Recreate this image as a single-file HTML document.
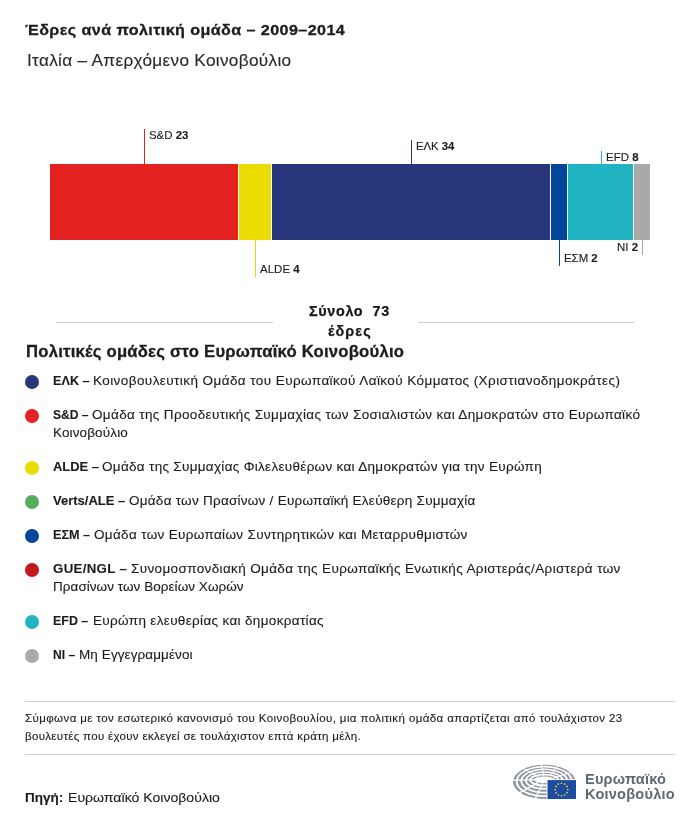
<!DOCTYPE html>
<html lang="el">
<head>
<meta charset="utf-8">
<title>Έδρες ανά πολιτική ομάδα – 2009–2014</title>
<style>
html,body{margin:0;padding:0;background:#fff;}
body{will-change:transform;width:700px;height:822px;position:relative;overflow:hidden;font-family:"Liberation Sans",sans-serif;color:#1d1d1b;}
.t{position:absolute;white-space:nowrap;transform-origin:0 50%;color:#1d1d1b;-webkit-text-stroke:0.12px #1d1d1b;}
.t b{font-weight:bold;}
.seg{position:absolute;top:164px;height:76px;}
.tick{position:absolute;width:1px;}
.hr{position:absolute;height:1px;background:#cfcfcf;}
.dot{position:absolute;left:25px;width:14px;height:14px;border-radius:50%;}
#logo{position:absolute;left:505px;top:758px;}
</style>
</head>
<body>
<!-- bar -->
<div class="seg" style="left:50px;width:188px;background:#e32221;"></div>
<div class="seg" style="left:239px;width:32px;background:#ebdc03;"></div>
<div class="seg" style="left:272px;width:278px;background:#28367c;"></div>
<div class="seg" style="left:551px;width:16px;background:#00479c;"></div>
<div class="seg" style="left:568px;width:65px;background:#20b4c2;"></div>
<div class="seg" style="left:634px;width:16px;background:#a9a9a8;"></div>

<!-- ticks -->
<div class="tick" style="left:144px;top:129px;height:35px;background:#e32221;"></div>
<div class="tick" style="left:255px;top:240px;height:37px;background:#ebdc03;"></div>
<div class="tick" style="left:411px;top:140px;height:24px;background:#28367c;"></div>
<div class="tick" style="left:559px;top:240px;height:26px;background:#00479c;"></div>
<div class="tick" style="left:601px;top:151px;height:13px;background:#20b4c2;"></div>
<div class="tick" style="left:642px;top:240px;height:15px;background:#a9a9a8;"></div>

<!-- total rules -->
<div class="hr" style="left:56px;width:217px;top:322px;"></div>
<div class="hr" style="left:418px;width:216px;top:322px;"></div>

<!-- legend dots -->
<div class="dot" style="top:375px;background:#28367c;"></div>
<div class="dot" style="top:409px;background:#e32221;"></div>
<div class="dot" style="top:461px;background:#ebdc03;"></div>
<div class="dot" style="top:495px;background:#53ad5a;"></div>
<div class="dot" style="top:529px;background:#00479c;"></div>
<div class="dot" style="top:563px;background:#c2191f;"></div>
<div class="dot" style="top:615px;background:#20b4c2;"></div>
<div class="dot" style="top:649px;background:#a9a9a8;"></div>

<!-- footer rules -->
<div class="hr" style="left:25px;width:650px;top:701px;"></div>
<div class="hr" style="left:25px;width:650px;top:754px;"></div>

<!-- logo -->
<svg id="logo" width="90" height="52" viewBox="0 0 90 52">
  <path fill="#90979e" fill-rule="evenodd" d="M8.00,23.80a31.20,17.10 0 1,0 62.40,0a31.20,17.10 0 1,0 -62.40,0zM10.75,23.43a28.60,15.57 0 1,0 57.20,0a28.60,15.57 0 1,0 -57.20,0z M12.60,23.35a26.60,13.95 0 1,0 53.20,0a26.60,13.95 0 1,0 -53.20,0zM15.35,22.98a24.00,12.42 0 1,0 48.00,0a24.00,12.42 0 1,0 -48.00,0z M17.20,22.90a22.00,10.80 0 1,0 44.00,0a22.00,10.80 0 1,0 -44.00,0zM19.95,22.53a19.40,9.28 0 1,0 38.80,0a19.40,9.28 0 1,0 -38.80,0z M21.90,22.40a17.30,7.70 0 1,0 34.60,0a17.30,7.70 0 1,0 -34.60,0zM24.45,22.12a14.90,6.38 0 1,0 29.80,0a14.90,6.38 0 1,0 -29.80,0z M26.40,21.95a12.80,4.55 0 1,0 25.60,0a12.80,4.55 0 1,0 -25.60,0zM28.95,21.67a10.40,3.22 0 1,0 20.80,0a10.40,3.22 0 1,0 -20.80,0z"/>
  <g stroke="#fff" fill="none"><line x1="38.9" y1="17.5" x2="33.6" y2="-2.9" stroke-width="1.2"/><line x1="44.7" y1="17.9" x2="59.3" y2="-0.4" stroke-width="1.0"/><line x1="33.6" y1="18.9" x2="9.9" y2="5.6" stroke-width="1.0"/><line x1="31.5" y1="21.6" x2="0.5" y2="22.4" stroke-width="1.2"/><line x1="33.6" y1="24.1" x2="9.9" y2="37.4" stroke-width="1.3"/><line x1="37.7" y1="25.4" x2="28.1" y2="45.1" stroke-width="1.3"/><line x1="42.4" y1="25.5" x2="48.8" y2="45.8" stroke-width="1.1"/><line x1="48.7" y1="19.8" x2="76.8" y2="11.0" stroke-width="1.0"/></g>
  <rect x="41.6" y="21.3" width="30" height="20.4" fill="#fff"/>
  <rect x="42.5" y="22.1" width="28.5" height="18.9" fill="#1a4da1"/>
  <g fill="#f2d22e"><circle cx="56.50" cy="25.25" r="0.85"/><circle cx="59.65" cy="26.09" r="0.85"/><circle cx="61.96" cy="28.40" r="0.85"/><circle cx="62.80" cy="31.55" r="0.85"/><circle cx="61.96" cy="34.70" r="0.85"/><circle cx="59.65" cy="37.01" r="0.85"/><circle cx="56.50" cy="37.85" r="0.85"/><circle cx="53.35" cy="37.01" r="0.85"/><circle cx="51.04" cy="34.70" r="0.85"/><circle cx="50.20" cy="31.55" r="0.85"/><circle cx="51.04" cy="28.40" r="0.85"/><circle cx="53.35" cy="26.09" r="0.85"/></g>
</svg>

<!-- text -->
<div id="title" class="t" style="left:24.70px;top:20.00px;font-size:15.5px;line-height:20px;letter-spacing:0.396px;transform:scaleX(1.0400);-webkit-text-stroke:0.3px #1d1d1b;"><b>Έδρες ανά πολιτική ομάδα – 2009–2014</b></div>
<div id="sub" class="t" style="left:27.00px;top:50.02px;font-size:16.5px;line-height:21px;letter-spacing:0.312px;transform:scaleX(1.0400);color:#2b2b2a;-webkit-text-stroke:0.15px #2b2b2a;">Ιταλία – Απερχόμενο Κοινοβούλιο</div>
<div id="l_sd" class="t" style="left:149.20px;top:128.00px;font-size:11px;line-height:14px;letter-spacing:-0.009px;transform:scaleX(1.0400);">S&amp;D <b>23</b></div>
<div id="l_alde" class="t" style="left:260.00px;top:262.00px;font-size:11px;line-height:14px;letter-spacing:0.042px;transform:scaleX(1.0400);">ALDE <b>4</b></div>
<div id="l_elk" class="t" style="left:416.40px;top:139.00px;font-size:11px;line-height:14px;letter-spacing:0.000px;transform:scaleX(1.0287);">ΕΛΚ <b>34</b></div>
<div id="l_efd" class="t" style="left:606.00px;top:150.00px;font-size:11px;line-height:14px;letter-spacing:0.032px;transform:scaleX(1.0400);">EFD <b>8</b></div>
<div id="l_ecr" class="t" style="left:563.80px;top:251.00px;font-size:11px;line-height:14px;letter-spacing:-0.016px;transform:scaleX(1.0400);">ΕΣΜ <b>2</b></div>
<div id="l_ni" class="t" style="left:617.30px;top:240.00px;font-size:11px;line-height:14px;letter-spacing:0.073px;transform:scaleX(1.0400);">NI <b>2</b></div>
<div id="head" class="t" style="left:25.50px;top:341.00px;font-size:16px;line-height:21px;letter-spacing:0.225px;transform:scaleX(1.0400);-webkit-text-stroke:0.3px #1d1d1b;"><b>Πολιτικές ομάδες στο Ευρωπαϊκό Κοινοβούλιο</b></div>
<div id="i1p" class="t" style="left:53.40px;top:373.01px;font-size:12.5px;line-height:16px;letter-spacing:0.000px;transform:scaleX(1.0127);"><b>ΕΛΚ –</b></div>
<div id="i1" class="t" style="left:93.40px;top:373.01px;font-size:12.5px;line-height:16px;letter-spacing:0.393px;transform:scaleX(1.0800);">Κοινοβουλευτική Ομάδα του Ευρωπαϊκού Λαϊκού Κόμματος (Χριστιανοδημοκράτες)</div>
<div id="i2p" class="t" style="left:53.00px;top:407.01px;font-size:12.5px;line-height:16px;letter-spacing:0.000px;transform:scaleX(0.9667);"><b>S&amp;D –</b></div>
<div id="i2a" class="t" style="left:91.80px;top:407.01px;font-size:12.5px;line-height:16px;letter-spacing:0.329px;transform:scaleX(1.0800);">Ομάδα της Προοδευτικής Συμμαχίας των Σοσιαλιστών και Δημοκρατών στο Ευρωπαϊκό</div>
<div id="i2b" class="t" style="left:53.40px;top:425.01px;font-size:12.5px;line-height:16px;letter-spacing:0.116px;transform:scaleX(1.0800);">Κοινοβούλιο</div>
<div id="i3p" class="t" style="left:53.00px;top:459.01px;font-size:12.5px;line-height:16px;letter-spacing:0.000px;transform:scaleX(1.0348);"><b>ALDE –</b></div>
<div id="i3" class="t" style="left:102.00px;top:459.01px;font-size:12.5px;line-height:16px;letter-spacing:0.285px;transform:scaleX(1.0800);">Ομάδα της Συμμαχίας Φιλελευθέρων και Δημοκρατών για την Ευρώπη</div>
<div id="i4p" class="t" style="left:53.20px;top:493.01px;font-size:12.5px;line-height:16px;letter-spacing:0.000px;transform:scaleX(1.0405);"><b>Verts/ALE –</b></div>
<div id="i4" class="t" style="left:129.40px;top:493.01px;font-size:12.5px;line-height:16px;letter-spacing:0.240px;transform:scaleX(1.0800);">Ομάδα των Πρασίνων / Ευρωπαϊκή Ελεύθερη Συμμαχία</div>
<div id="i5p" class="t" style="left:53.40px;top:527.01px;font-size:12.5px;line-height:16px;letter-spacing:0.000px;transform:scaleX(1.0112);"><b>ΕΣΜ –</b></div>
<div id="i5" class="t" style="left:94.00px;top:527.01px;font-size:12.5px;line-height:16px;letter-spacing:0.315px;transform:scaleX(1.0800);">Ομάδα των Ευρωπαίων Συντηρητικών και Μεταρρυθμιστών</div>
<div id="i6p" class="t" style="left:53.20px;top:561.01px;font-size:12.5px;line-height:16px;letter-spacing:0.305px;transform:scaleX(1.0600);"><b>GUE/NGL –</b></div>
<div id="i6a" class="t" style="left:130.90px;top:561.01px;font-size:12.5px;line-height:16px;letter-spacing:0.339px;transform:scaleX(1.0800);">Συνομοσπονδιακή Ομάδα της Ευρωπαϊκής Ενωτικής Αριστεράς/Αριστερά των</div>
<div id="i6b" class="t" style="left:53.40px;top:579.01px;font-size:12.5px;line-height:16px;letter-spacing:0.046px;transform:scaleX(1.0800);">Πρασίνων των Βορείων Χωρών</div>
<div id="i7p" class="t" style="left:53.40px;top:613.01px;font-size:12.5px;line-height:16px;letter-spacing:0.000px;transform:scaleX(0.9961);"><b>EFD –</b></div>
<div id="i7" class="t" style="left:92.60px;top:613.01px;font-size:12.5px;line-height:16px;letter-spacing:0.312px;transform:scaleX(1.0800);">Ευρώπη ελευθερίας και δημοκρατίας</div>
<div id="i8p" class="t" style="left:53.40px;top:647.01px;font-size:12.5px;line-height:16px;letter-spacing:0.000px;transform:scaleX(0.9635);"><b>NI –</b></div>
<div id="i8" class="t" style="left:79.40px;top:647.01px;font-size:12.5px;line-height:16px;letter-spacing:0.087px;transform:scaleX(1.0800);">Μη Εγγεγραμμένοι</div>
<div id="n1" class="t" style="left:24.90px;top:711.01px;font-size:10.75px;line-height:14px;letter-spacing:0.379px;transform:scaleX(1.0700);color:#222221;">Σύμφωνα με τον εσωτερικό κανονισμό του Κοινοβουλίου, μια πολιτική ομάδα απαρτίζεται από τουλάχιστον 23</div>
<div id="n2" class="t" style="left:24.90px;top:729.01px;font-size:10.75px;line-height:14px;letter-spacing:0.300px;transform:scaleX(1.0700);color:#222221;">βουλευτές που έχουν εκλεγεί σε τουλάχιστον επτά κράτη μέλη.</div>
<div id="srcp" class="t" style="left:25.00px;top:789.01px;font-size:13.5px;line-height:18px;letter-spacing:0.000px;transform:scaleX(0.9987);"><b>Πηγή:</b></div>
<div id="src" class="t" style="left:67.60px;top:789.01px;font-size:13.5px;line-height:18px;letter-spacing:0.016px;transform:scaleX(1.0400);">Ευρωπαϊκό Κοινοβούλιο</div>
<div id="lg1" class="t" style="left:584.90px;top:770.01px;font-size:14px;line-height:18px;letter-spacing:0.196px;transform:scaleX(1.0400);color:#5e6972;-webkit-text-stroke:0;"><b>Ευρωπαϊκό</b></div>
<div id="lg2" class="t" style="left:584.90px;top:785.01px;font-size:14px;line-height:18px;letter-spacing:0.218px;transform:scaleX(1.0400);color:#5e6972;-webkit-text-stroke:0;"><b>Κοινοβούλιο</b></div>
<div id="t1" class="t" style="left:309.00px;top:301.01px;font-size:15px;line-height:20px;letter-spacing:0.669px;transform:scaleX(0.9600);color:#161616;-webkit-text-stroke:0.25px #161616;"><b>Σύνολο&nbsp; 73</b></div>
<div id="t2" class="t" style="left:328.10px;top:321.01px;font-size:15px;line-height:20px;letter-spacing:1.109px;transform:scaleX(0.9600);color:#161616;-webkit-text-stroke:0.25px #161616;"><b>έδρες</b></div>
</body>
</html>
